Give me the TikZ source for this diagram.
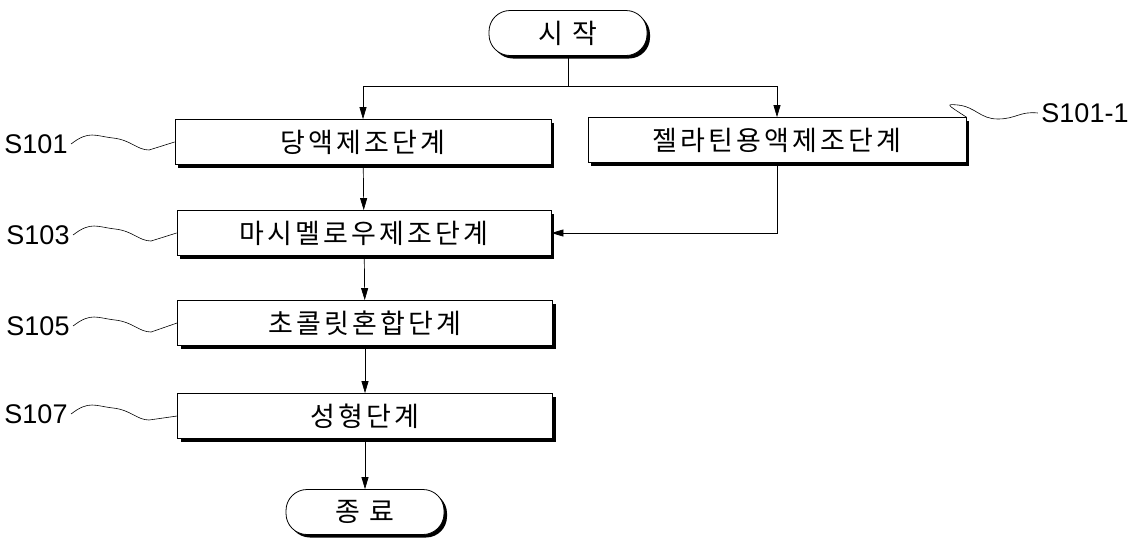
\documentclass[tikz,border=0pt]{standalone}
\usepackage{fontspec}
\setmainfont{Liberation Sans}
\newfontfamily\kr[LetterSpace=12]{Noto Sans CJK KR}
\usetikzlibrary{shadows,arrows.meta}
\begin{document}
\begin{tikzpicture}[x=1pt,y=-1pt,
  box/.style={draw,thick,fill=white,minimum height=45pt,font=\kr\fontsize{27}{30}\selectfont,
    drop shadow={shadow xshift=3pt,shadow yshift=-3pt,fill=black,opacity=1}},
  term/.style={box,rounded corners=21pt,minimum width=158pt},
  arr/.style={-{Triangle[length=12pt,width=7pt]},line width=0.7pt},
  lab/.style={font=\fontsize{27}{30}\selectfont},
  wav/.style={line width=0.6pt}]
\useasboundingbox (0,0) rectangle (1141,547);
\node[term] (st) at (568,33) {시 작};
\node[box,minimum width=376pt] (a) at (363,142) {당액제조단계};
\node[box,minimum width=378pt] (b) at (777,140) {젤라틴용액제조단계};
\node[box,minimum width=374pt] (c) at (364,233) {마시멜로우제조단계};
\node[box,minimum width=375pt] (d) at (365,323) {초콜릿혼합단계};
\node[box,minimum width=375pt] (e) at (365,416) {성형단계};
\node[term] (en) at (365,512) {종 료};
\coordinate (j) at (568,86);
\draw[line width=0.7pt] (st.south) -- (j);
\draw[arr] (j) -| (a.north);
\draw[arr] (j) -| (b.north);
\draw[arr] (a) -- (c);
\draw[arr] (b.south) |- (c.east);
\draw[arr] (c) -- (d);
\draw[arr] (d) -- (e);
\draw[arr] (e.south) -- (en.north);
\node[lab] (l1) at (36,144) {S101};
\node[lab] (l3) at (38,235) {S103};
\node[lab] (l5) at (38,326) {S105};
\node[lab] (l7) at (36,414) {S107};
\node[lab] (l11) at (1085,113) {S101-1};
\foreach \l/\bx in {l1/a,l3/c,l5/d,l7/e}{
  \draw[wav] (\l.east) .. controls +(18,-14) and +(-18,-2) .. ++(42,-6)
    .. controls +(18,2) and +(-12,0) .. ++(36,12) -- (\bx.west);
}
\draw[wav] (l11.west) .. controls +(-18,-2) and +(18,0) .. ++(-40,6)
  .. controls +(-18,0) and +(18,2) .. ++(-40,-14) .. controls +(-12,-1) .. (b.north east);
\end{tikzpicture}
\end{document}
